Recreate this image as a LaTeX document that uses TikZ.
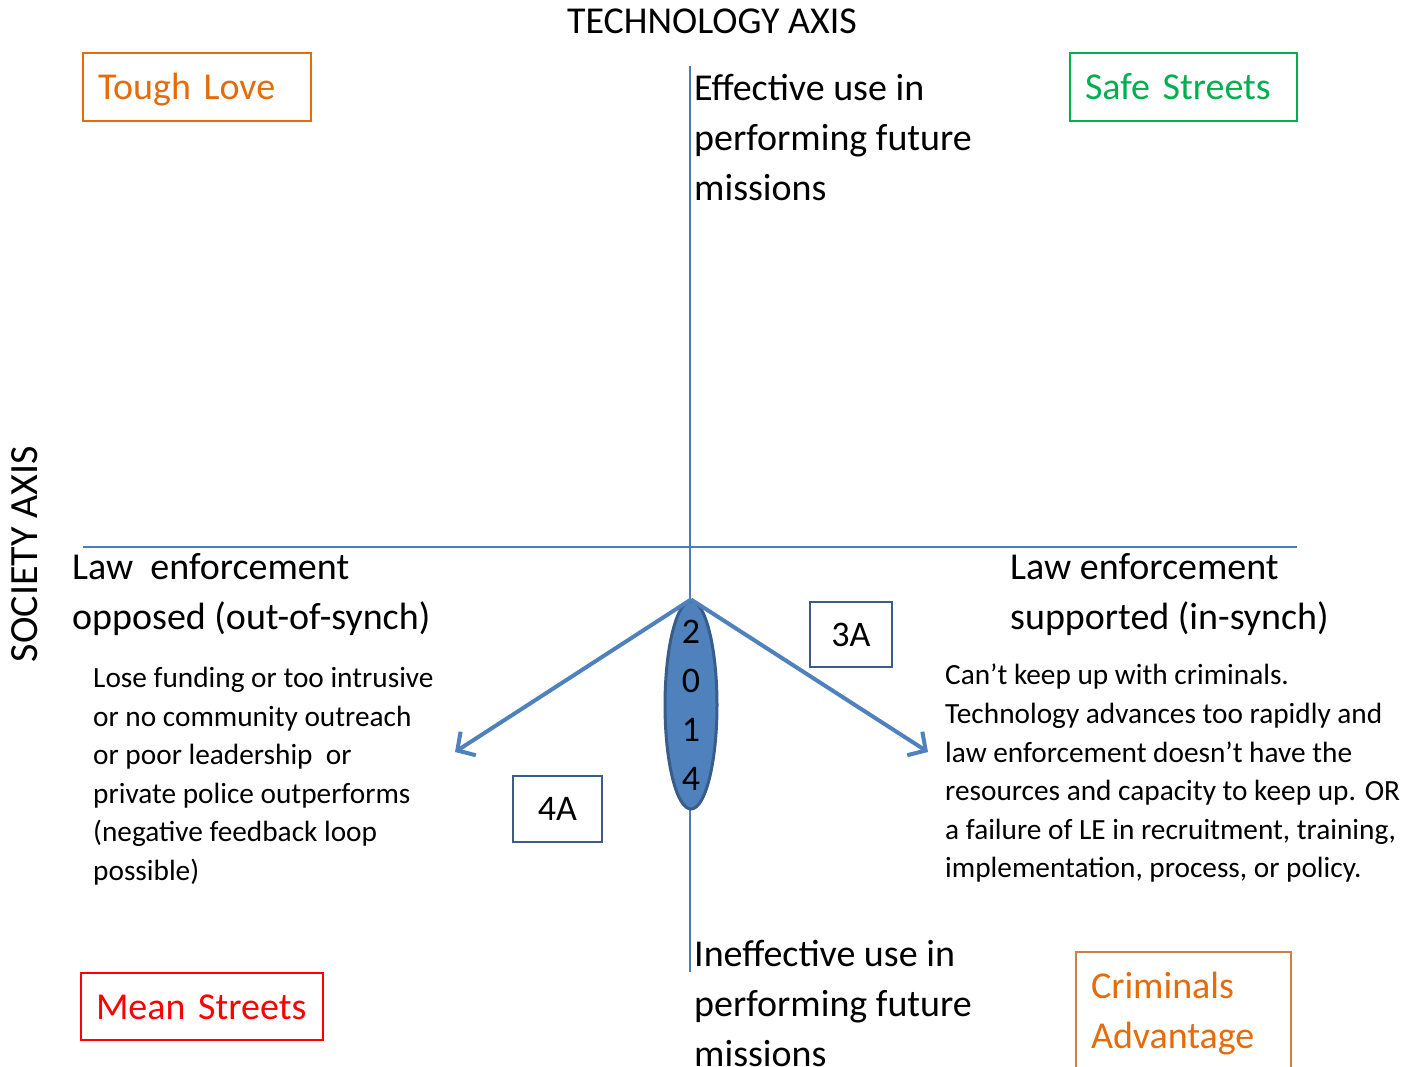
\documentclass[tikz,border=0pt]{standalone}
\usepackage{fontspec}
\setmainfont{Carlito}
\usetikzlibrary{positioning, arrows.meta, shapes.geometric}

\definecolor{axisblue}{HTML}{4A7EBB}
\definecolor{fillblue}{HTML}{4F81BD}
\definecolor{darkblue}{HTML}{385D8A}
\definecolor{toughorange}{HTML}{E46C0A}
\definecolor{crimborder}{HTML}{CD7F45}
\definecolor{safegreen}{HTML}{00B050}
\definecolor{meanred}{HTML}{FF0000}

\newcommand{\bigtext}{\fontsize{38}{50}\selectfont}
\newcommand{\smalltext}{\fontsize{29.3}{38.6}\selectfont}

\begin{document}
\begin{tikzpicture}[
		x=1pt, y=-1pt,
		>={Straight Barb[length=13pt, width=28pt]}, % Arrow style
		axisline/.style={draw=axisblue, line width=2pt},
		trendarrow/.style={->, draw=fillblue, line width=4pt},
		quadbox/.style={draw, line width=2pt, inner xsep=15pt, inner ysep=0pt, align=left, text height=34pt, text depth=8pt, font=\fontsize{38}{50}\selectfont},
		yearbox/.style={draw=darkblue, line width=2pt, minimum width=82pt, minimum height=65pt, inner sep=0pt, font=\fontsize{36}{44}\selectfont},
		label/.style={inner sep=0pt, anchor=north west, align=left}
	]
	\clip (0,0) rectangle (1402,1067);

	% Axes
	\coordinate (techTop) at (690,66);
	\coordinate (techBot) at (690,972);
	\coordinate (socLeft) at (83,547);
	\coordinate (socRight) at (1297,547);
	\draw[axisline] (techTop) -- (techBot);
	\draw[axisline] (socLeft) -- (socRight);

	% Axis titles
	\node[inner sep=0pt, font=\fontsize{38}{44}\selectfont] (techTitle) at (712,21) {TECHNOLOGY AXIS};
	\node[inner sep=0pt, rotate=90, font=\fontsize{40}{44}\selectfont] (socTitle) at (25,554) {SOCIETY AXIS};

	% Axis end labels
	\node[label, font=\bigtext] (effective) at (694,74) {Effective use in\\performing future\\missions};
	\node[label, font=\bigtext] (ineffective) at (694,940) {Ineffective use in\\performing future\\missions};
	\node[label, font=\bigtext] (opposed) at (72,553) {Law\ \ enforcement\\opposed (out-of-synch)};
	\node[label, font=\bigtext] (supported) at (1010,553) {Law enforcement\\supported (in-synch)};

	% Quadrant scenarios
	\node[quadbox, draw=toughorange, text=toughorange, text width=198pt, minimum height=68pt] (tough) at (197,87) {Tough Love};
	\node[quadbox, draw=safegreen, text=safegreen, text width=197pt, minimum height=68pt] (safe) at (1183.5,87) {Safe Streets};
	\node[quadbox, draw=meanred, text=meanred, text width=212pt, minimum height=67pt] (mean) at (202,1006.5) {Mean Streets};
	\node[draw=crimborder, text=toughorange, line width=2pt, inner xsep=15pt, inner ysep=20pt, font=\fontsize{38}{50}\selectfont, anchor=north] (criminals) at (1183.5,951) {\parbox[t][130pt][t]{185pt}{Criminals\\Advantage}};

	% Year marker
	\node[ellipse, draw=darkblue, fill=fillblue, line width=3pt, minimum width=52pt, minimum height=208pt, inner sep=0pt] (year) at (691,705) {};
	\node[align=center, inner sep=0pt, font=\fontsize{36}{49}\selectfont] (digits) at (year.center) {2\\0\\1\\4};

	% Trend arrows
	\coordinate (endLeft) at (455,752);
	\coordinate (endRight) at (928,752);
	\draw[trendarrow] (year.north) -- (endLeft);
	\draw[trendarrow] (year.north) -- (endRight);

	% Scenario tags
	\node[yearbox] (tagThree) at (851,634.5) {3A};
	\node[yearbox, minimum width=89pt, minimum height=66pt] (tagFour) at (557.5,809) {4A};

	% Explanations
	\node[label, font=\smalltext] (leftNote) at (93,667) {Lose funding or too intrusive\\or no community outreach\\or poor leadership\ \ or\\private police outperforms\\(negative feedback loop\\possible)};
	\node[label, font=\smalltext] (rightNote) at (945,664) {Can’t keep up with criminals.\\Technology advances too rapidly and\\law enforcement doesn’t have the\\resources and capacity to keep up. OR\\a failure of LE in recruitment, training,\\implementation, process, or policy.};
\end{tikzpicture}
\end{document}
